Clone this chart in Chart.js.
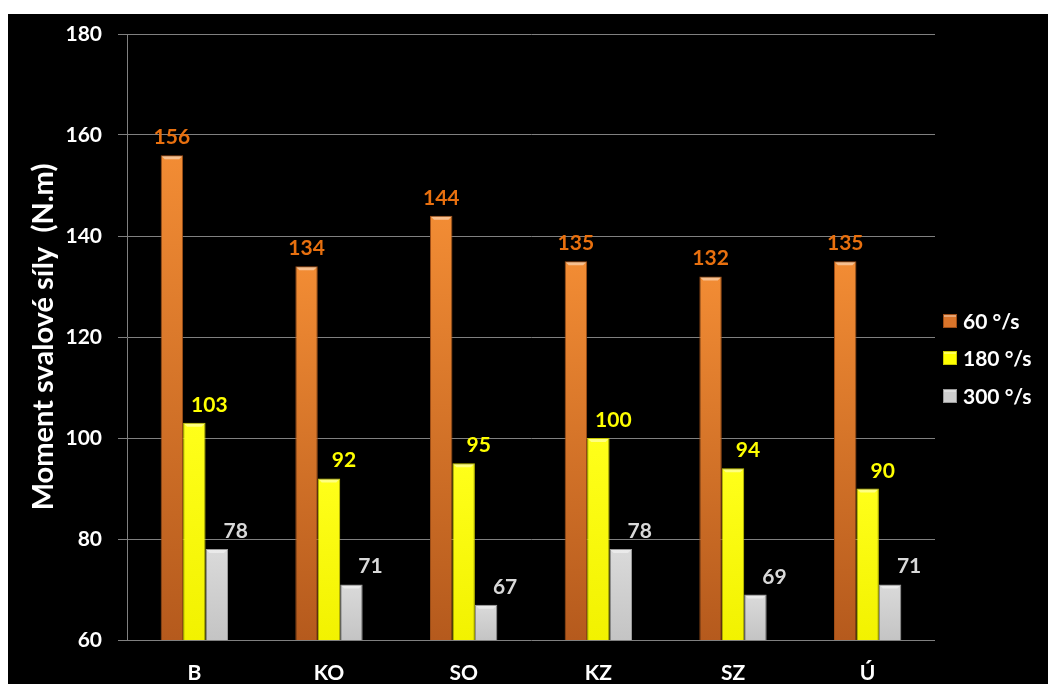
<!DOCTYPE html>
<html>
<head>
<meta charset="utf-8">
<script src="https://cdn.jsdelivr.net/npm/chart.js@4"></script>
<style>
  html, body { margin: 0; padding: 0; background: #ffffff; }
  #wrap { position: absolute; left: 8px; top: 14px; width: 1040px; height: 670px; background: #000000; }
  canvas { display: block; }
</style>
</head>
<body>
<div id="wrap"><canvas id="c" width="1040" height="670"></canvas></div>
<script>
// Torque per group at three angular velocities
const categories = ['B', 'KO', 'SO', 'KZ', 'SZ', 'Ú'];
const seriesNames = ['60 °/s', '180 °/s', '300 °/s'];
const v60 = [156, 134, 144, 135, 132, 135];
const v180 = [103, 92, 95, 100, 94, 90];
const v300 = [78, 71, 67, 78, 69, 71];
const yTicks = [60, 80, 100, 120, 140, 160, 180];
const axisTitle = 'Moment svalové síly  (N.m)';

const FONT = 'Lato, "Open Sans", "DejaVu Sans", sans-serif';

// fill styles per series
const looks = [
  { top: '#f28c34', bottom: '#b55a1d', border: '#9c4d17', label: '#e8700f', legend: '#d9742a' },
  { top: '#ffff1a', bottom: '#f2f200', border: '#c9c900', label: '#ffff00', legend: '#ffff00' },
  { top: '#dadada', bottom: '#c4c4c4', border: '#9a9a9a', label: '#d9d9d9', legend: '#d0d0d0' }
];
// horizontal shift of each series' value label relative to its bar
const labelShift = [0, 15, 19];

function barFill(i) {
  return function (ctx) {
    const chart = ctx.chart;
    const area = chart.chartArea;
    const look = looks[i];
    if (!area || ctx.type !== 'data' || !chart.scales.y) return look.top;
    const yTop = chart.scales.y.getPixelForValue(ctx.raw);
    const g = chart.ctx.createLinearGradient(0, yTop, 0, area.bottom);
    g.addColorStop(0, look.top);
    g.addColorStop(1, look.bottom);
    return g;
  };
}

const seriesValues = [v60, v180, v300];
const datasets = seriesValues.map((vals, i) => ({
  label: seriesNames[i],
  data: vals,
  backgroundColor: barFill(i),
  borderColor: looks[i].border,
  borderWidth: 1,
  categoryPercentage: 0.5,
  barPercentage: 1.0
}));

// light bevel along the top of each bar, plus value labels
const barDecor = {
  id: 'barDecor',
  afterDatasetsDraw(chart) {
    const ctx = chart.ctx;
    ctx.save();
    chart.data.datasets.forEach((ds, i) => {
      const meta = chart.getDatasetMeta(i);
      meta.data.forEach((bar, j) => {
        const w = bar.width;
        const x0 = bar.x - w / 2, x1 = bar.x + w / 2;
        ctx.fillStyle = 'rgba(255,255,255,0.45)';
        ctx.beginPath();
        ctx.moveTo(x0 + 1, bar.y + 1);
        ctx.lineTo(x1 - 1, bar.y + 1);
        ctx.lineTo(x1 - 4, bar.y + 4);
        ctx.lineTo(x0 + 4, bar.y + 4);
        ctx.closePath();
        ctx.fill();
        ctx.font = 'bold 21px ' + FONT;
        ctx.fillStyle = looks[i].label;
        ctx.textAlign = 'center';
        ctx.textBaseline = 'alphabetic';
        ctx.fillText(String(ds.data[j]), bar.x + labelShift[i], bar.y - 11);
      });
    });
    ctx.restore();
  }
};

// rotated y-axis title, centred on the plot area
const yTitle = {
  id: 'yTitle',
  afterDraw(chart) {
    const a = chart.chartArea;
    const ctx = chart.ctx;
    ctx.save();
    ctx.translate(45, (a.top + a.bottom) / 2);
    ctx.rotate(-Math.PI / 2);
    ctx.font = 'bold 29px ' + FONT;
    ctx.fillStyle = '#ffffff';
    ctx.textAlign = 'center';
    ctx.textBaseline = 'alphabetic';
    ctx.fillText(axisTitle, 0, 0);
    ctx.restore();
  }
};

// legend column to the right of the plot
const sideLegend = {
  id: 'sideLegend',
  afterDraw(chart) {
    const ctx = chart.ctx;
    const rows = [307, 344, 382];
    ctx.save();
    ctx.font = 'bold 21px ' + FONT;
    ctx.textAlign = 'left';
    ctx.textBaseline = 'middle';
    chart.data.datasets.forEach((ds, i) => {
      const y = rows[i];
      ctx.fillStyle = looks[i].legend;
      ctx.fillRect(935, y - 7, 14, 14);
      ctx.strokeStyle = looks[i].border;
      ctx.lineWidth = 1;
      ctx.strokeRect(935.5, y - 6.5, 13, 13);
      ctx.fillStyle = 'rgba(255,255,255,0.35)';
      ctx.fillRect(936, y - 6, 12, 2);
      ctx.fillStyle = '#ffffff';
      ctx.fillText(ds.label, 955, y + 1);
    });
    ctx.restore();
  }
};

new Chart(document.getElementById('c'), {
  type: 'bar',
  data: { labels: categories, datasets: datasets },
  options: {
    responsive: false,
    devicePixelRatio: 1,
    animation: false,
    layout: { padding: { left: 0, right: 113, top: 20, bottom: 0 } },
    scales: {
      x: {
        afterFit(scale) { scale.height = 44; scale.paddingLeft = 0; scale.paddingRight = 0; },
        grid: { display: false, drawTicks: false },
        border: { display: false },
        ticks: { color: '#ffffff', font: { family: FONT, size: 21, weight: 'bold' }, padding: 21 }
      },
      y: {
        min: 60,
        max: 180,
        afterFit(scale) { scale.width = 119; scale.paddingTop = 0; scale.paddingBottom = 0; },
        afterBuildTicks(scale) { scale.ticks = yTicks.map(v => ({ value: v })); },
        grid: { color: '#808080', lineWidth: 1, tickLength: 9, drawTicks: true },
        border: { display: true, color: '#808080' },
        ticks: { color: '#ffffff', font: { family: FONT, size: 21, weight: 'bold' }, padding: 16 }
      }
    },
    plugins: {
      tooltip: { enabled: false },
      legend: { display: false }
    }
  },
  plugins: [barDecor, yTitle, sideLegend]
});
</script>
</body>
</html>
